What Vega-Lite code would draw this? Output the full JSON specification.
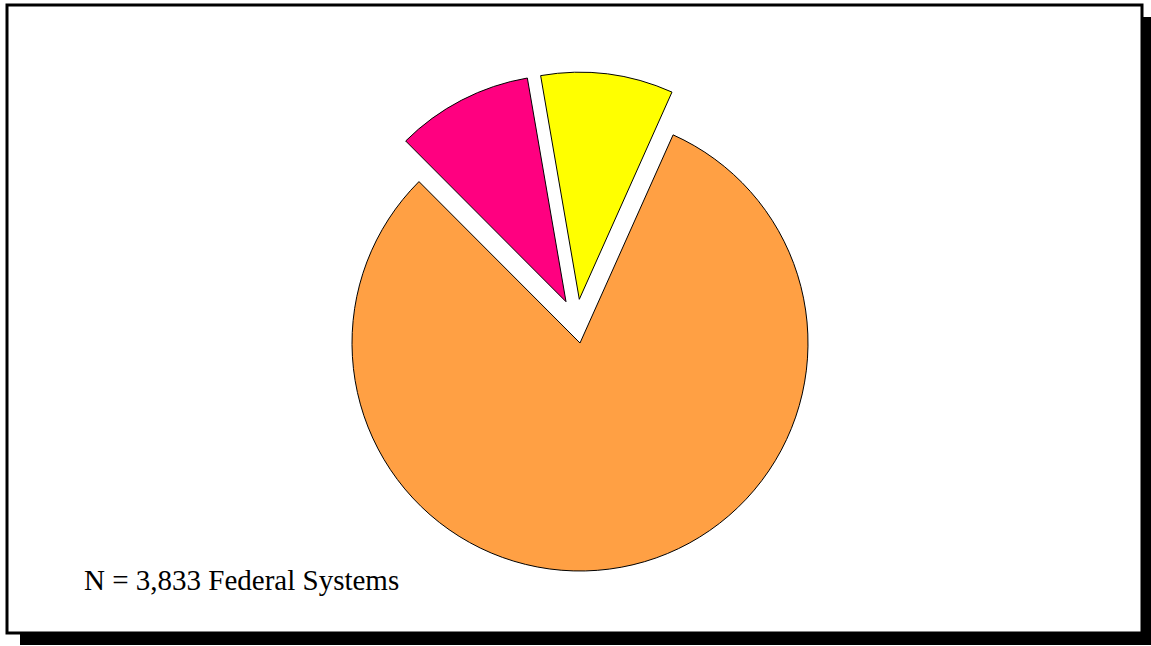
{
  "$schema": "https://vega.github.io/schema/vega-lite/v6.json",
  "width": 1135,
  "height": 628,
  "autosize": {"type": "none"},
  "padding": {"left": 7, "top": 5, "right": 9, "bottom": 13},
  "background": "white",
  "config": {"view": {"stroke": null}},
  "title": {
    "text": "N = 3,833 Federal Systems",
    "orient": "bottom",
    "anchor": "start",
    "frame": "group",
    "offset": -55,
    "dx": 77,
    "baseline": "alphabetic",
    "font": "Liberation Serif",
    "fontSize": 29,
    "fontWeight": "normal",
    "color": "black"
  },
  "data": {
    "values": [
      {"slice": "Orange", "systems": 3098},
      {"slice": "Pink", "systems": 374},
      {"slice": "Yellow", "systems": 361}
    ]
  },
  "layer": [
    {
      "data": {"values": [{"frame": "shadow"}]},
      "mark": {"type": "rect", "fill": "black", "xOffset": 13, "x2Offset": 13, "yOffset": 12, "y2Offset": 12},
      "encoding": {
        "x": {"value": 0},
        "x2": {"value": "width"},
        "y": {"value": 0},
        "y2": {"value": "height"}
      }
    },
    {
      "data": {"values": [{"frame": "box"}]},
      "mark": {"type": "rect", "fill": "white", "stroke": "black", "strokeWidth": 3},
      "encoding": {}
    },
    {
      "transform": [
        {"stack": "systems", "groupby": [], "sort": [{"field": "systems", "order": "descending"}], "as": ["start", "end"]},
        {"filter": "datum.slice === 'Orange'"}
      ],
      "mark": {"type": "arc", "outerRadius": 228, "xOffset": 5.5, "yOffset": 24, "fill": "#FFA044", "stroke": "black", "strokeWidth": 1},
      "encoding": {
        "theta": {"field": "start", "type": "quantitative", "scale": {"domain": [0, 3833], "range": [0.4206, 6.7038]}},
        "theta2": {"field": "end"}
      }
    },
    {
      "transform": [
        {"stack": "systems", "groupby": [], "sort": [{"field": "systems", "order": "descending"}], "as": ["start", "end"]},
        {"filter": "datum.slice === 'Pink'"}
      ],
      "mark": {"type": "arc", "outerRadius": 227, "xOffset": -8.5, "yOffset": -17.3, "fill": "#FF0080", "stroke": "black", "strokeWidth": 1},
      "encoding": {
        "theta": {"field": "start", "type": "quantitative", "scale": {"domain": [0, 3833], "range": [0.4206, 6.7038]}},
        "theta2": {"field": "end"}
      }
    },
    {
      "transform": [
        {"stack": "systems", "groupby": [], "sort": [{"field": "systems", "order": "descending"}], "as": ["start", "end"]},
        {"filter": "datum.slice === 'Yellow'"}
      ],
      "mark": {"type": "arc", "outerRadius": 227, "xOffset": 4.8, "yOffset": -19.7, "fill": "#FFFF00", "stroke": "black", "strokeWidth": 1},
      "encoding": {
        "theta": {"field": "start", "type": "quantitative", "scale": {"domain": [0, 3833], "range": [0.4206, 6.7038]}},
        "theta2": {"field": "end"}
      }
    }
  ]
}
